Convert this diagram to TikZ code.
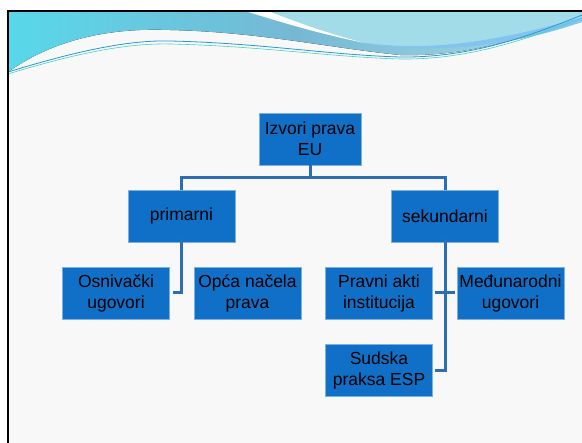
\documentclass[tikz,border=0pt]{standalone}
\usepackage{fontspec}
\setmainfont{Liberation Sans}
\usetikzlibrary{positioning}
\definecolor{boxblue}{RGB}{16,111,198}
\definecolor{linkblue}{RGB}{46,108,180}
\definecolor{slidebg}{RGB}{248,248,248}
\definecolor{tealdark}{RGB}{118,184,212}
\definecolor{tealbright}{RGB}{88,216,234}
\definecolor{teallight}{RGB}{162,220,232}
\definecolor{streakblue}{RGB}{130,196,238}
\definecolor{waveblue}{RGB}{40,150,215}
\definecolor{wavegreen}{RGB}{70,210,190}

\begin{document}
\begin{tikzpicture}[x=1pt, y=-1pt,
  every node/.style={font=\fontsize{17.5}{21}\selectfont},
  srcbox/.style={fill=boxblue, draw=boxblue!55!white, line width=0.5pt, text=black,
    align=center, minimum width=107pt, minimum height=52pt, inner sep=0pt},
  link/.style={linkblue, line width=3pt}]
\useasboundingbox (0,0) rectangle (582,443);
% slide background and frame
\fill[white] (0,0) rectangle (582,443);
\fill[slidebg] (8,11) rectangle (582,443);
% wave at the top
\fill[left color=tealbright, right color=teallight, middle color=tealdark]
  (8,11) -- (8,72) .. controls (60,35) and (120,28) .. (170,30) .. controls (260,32) and (330,48) .. (400,55)
  .. controls (470,57) and (530,36) .. (582,15) -- (582,11) -- cycle;
\fill[teallight] (266,11) .. controls (300,24) and (340,38) .. (365,43) .. controls (420,52) and (500,42) .. (582,20) -- (582,11) -- cycle;
\fill[streakblue] (340,38) .. controls (400,52) and (470,50) .. (582,17) -- (582,22) .. controls (500,50) and (420,56) .. (340,38) -- cycle;
\fill[white] (245,11) -- (268,11) .. controls (300,24) and (340,37) .. (365,43) .. controls (320,34) and (280,22) .. cycle;
\draw[waveblue, line width=0.8pt] (8,72) .. controls (80,50) and (130,40) .. (170,41) .. controls (260,43) and (330,55) .. (400,57)
  .. controls (470,58) and (530,36) .. (582,15);
\draw[wavegreen, line width=0.6pt] (8,74) .. controls (80,52) and (130,43) .. (170,44) .. controls (260,46) and (330,57) .. (400,59)
  .. controls (470,60) and (530,38) .. (582,18);
\draw[black, line width=2.5pt] (8,443) -- (8,11) -- (582,11);

% boxes
\node[srcbox, minimum width=102pt] (izvori) at (310,139) {Izvori prava\\EU};
\node[srcbox] (primarni) at (181.5,216) {primarni};
\node[srcbox] (sekundarni) at (445,216) {sekundarni};
\node[srcbox] (osnivacki) at (116,293) {Osnivački\\ugovori};
\node[srcbox] (opca) at (247.5,293) {Opća načela\\prava};
\node[srcbox] (pravni) at (379,293) {Pravni akti\\institucija};
\node[srcbox] (medjunarodni) at (510.5,293) {Međunarodni\\ugovori};
\node[srcbox] (sudska) at (379,370.5) {Sudska\\praksa ESP};

% connectors
\draw[link] (izvori.south) -- ++(0,12) -| (primarni.north);
\draw[link] (izvori.south) -- ++(0,12) -| (sekundarni.north);
\draw[link] ([yshift=3pt]primarni.south) |- ([xshift=3pt]osnivacki.east);
\draw[link] ([yshift=3pt]sekundarni.south) |- ([xshift=2pt]sudska.east);
\draw[link] ([xshift=2pt]pravni.east) -- ([xshift=-2pt]medjunarodni.west);
\end{tikzpicture}
\end{document}
